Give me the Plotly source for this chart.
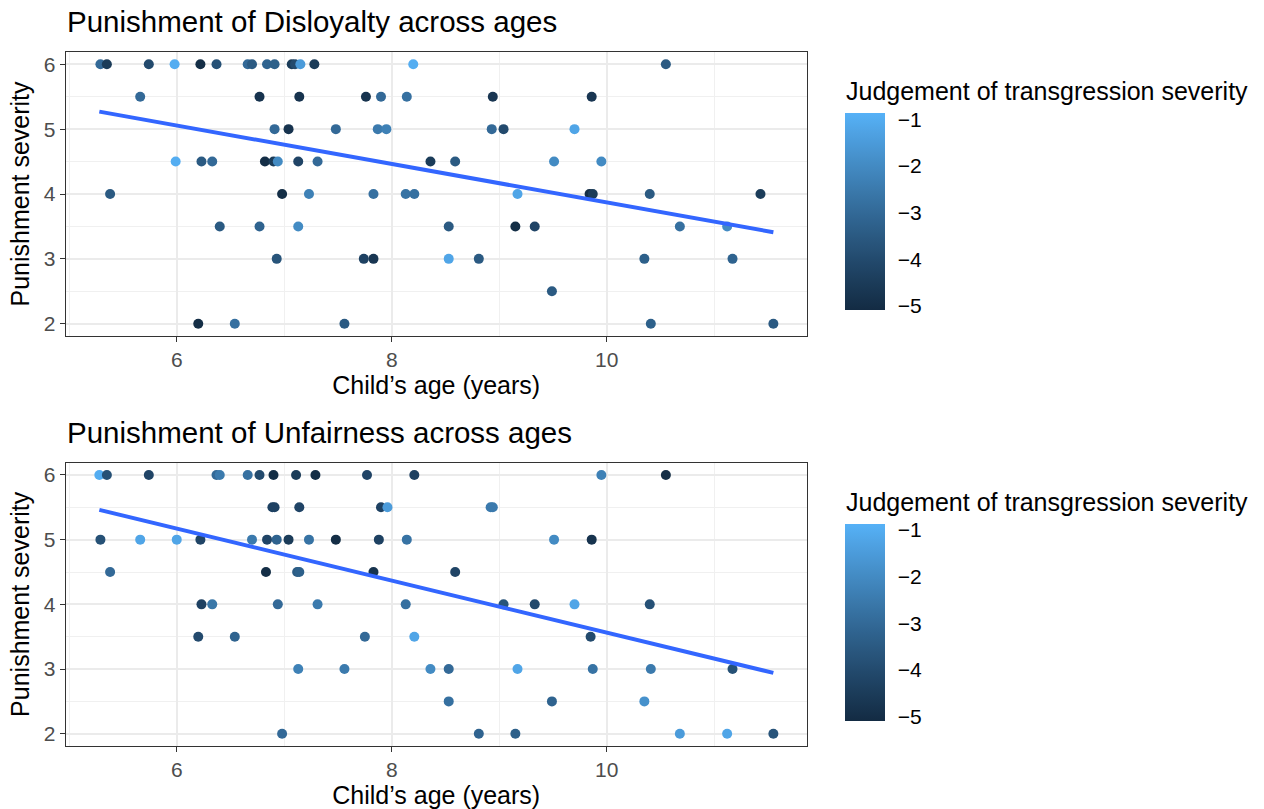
import plotly.graph_objects as go
import numpy as np

# ---------------- data ----------------
# Disloyalty panel
dis_age = [5.29, 5.35, 5.74, 5.98, 6.22, 6.37, 6.66, 6.70, 6.84, 6.91, 7.07, 7.10, 7.15, 7.28, 8.20, 10.55,
           5.66, 6.77, 7.14, 7.76, 7.90, 8.14, 8.94, 9.86,
           6.91, 7.04, 7.48, 7.87, 7.95, 8.93, 9.04, 9.70,
           5.99, 6.23, 6.33, 6.82, 6.90, 6.94, 7.13, 7.31, 8.36, 8.59, 9.51, 9.95,
           5.38, 6.98, 7.23, 7.83, 8.13, 8.21, 9.17, 9.84, 9.87, 10.40, 11.43,
           6.40, 6.77, 7.13, 8.53, 9.15, 9.33, 10.68, 11.12,
           6.93, 7.74, 7.83, 8.53, 8.81, 10.35, 11.17,
           9.49,
           6.20, 6.54, 7.56, 10.41, 11.55]
dis_pun = [6]*16 + [5.5]*8 + [5]*8 + [4.5]*12 + [4]*11 + [3.5]*8 + [3]*7 + [2.5]*1 + [2]*5
dis_judg = [-3.0, -4.5, -4.0, -1.0, -5.0, -3.8, -3.0, -3.5, -3.2, -3.3, -4.5, -4.0, -1.5, -4.5, -1.0, -3.5,
            -3.0, -4.8, -4.8, -4.8, -3.0, -2.8, -4.7, -4.7,
            -3.0, -4.8, -3.0, -2.5, -2.3, -3.0, -4.0, -1.2,
            -1.0, -3.5, -3.0, -5.0, -4.5, -2.0, -4.2, -3.0, -4.5, -3.5, -2.0, -2.0,
            -3.5, -5.0, -2.3, -2.8, -2.7, -2.8, -1.2, -5.0, -4.5, -3.5, -4.5,
            -3.5, -3.2, -2.0, -3.5, -5.0, -4.2, -2.8, -2.0,
            -3.7, -4.3, -4.7, -1.2, -3.5, -3.3, -3.2,
            -3.5,
            -5.0, -2.8, -3.5, -3.3, -3.5]

# Unfairness panel
unf_age = [5.28, 5.35, 5.74, 6.37, 6.40, 6.66, 6.77, 6.90, 7.11, 7.29, 7.77, 8.21, 9.95, 10.55,
           6.89, 6.91, 7.14, 7.90, 7.96, 8.92, 8.94,
           5.29, 5.66, 6.00, 6.22, 6.70, 6.84, 6.93, 7.04, 7.23, 7.48, 7.88, 8.14, 9.51, 9.86,
           5.38, 6.83, 7.12, 7.14, 7.83, 8.59,
           6.23, 6.33, 6.94, 7.31, 8.13, 9.04, 9.33, 9.70, 10.40,
           6.20, 6.54, 7.75, 8.21, 9.85,
           7.13, 7.56, 8.36, 8.53, 9.17, 9.87, 10.41, 11.17,
           8.53, 9.49, 10.35,
           6.98, 8.81, 9.15, 10.68, 11.12, 11.55]
unf_pun = [6]*14 + [5.5]*7 + [5]*14 + [4.5]*6 + [4]*9 + [3.5]*5 + [3]*8 + [2.5]*3 + [2]*6
unf_judg = [-1.0, -3.8, -4.2, -3.0, -2.5, -2.8, -4.0, -5.0, -4.5, -5.0, -4.2, -4.3, -2.3, -5.0,
            -4.3, -4.3, -4.2, -4.3, -1.5, -2.5, -2.5,
            -3.8, -1.2, -1.2, -4.2, -2.5, -4.2, -3.2, -4.5, -2.7, -5.0, -4.3, -2.7, -2.0, -4.8,
            -3.0, -5.0, -3.5, -3.3, -4.8, -4.2,
            -4.3, -2.6, -3.0, -2.5, -2.8, -3.7, -4.0, -1.2, -3.8,
            -4.0, -3.2, -3.0, -1.2, -4.0,
            -2.3, -2.5, -2.0, -3.0, -1.2, -2.7, -2.5, -3.8,
            -2.8, -3.2, -1.8,
            -3.0, -3.2, -3.3, -1.5, -1.2, -3.7]

# fitted linear trend (endpoints)
trend_age = [5.28, 11.55]
dis_trend = [5.27, 3.41]
unf_trend = [5.46, 2.94]

titles = ["Punishment of Disloyalty across ages", "Punishment of Unfairness across ages"]
x_title = "Child’s age (years)"
y_title = "Punishment severity"
legend_title = "Judgement of transgression severity"
cbar_vals = [-5, -4, -3, -2, -1]
cbar_text = ["−5", "−4", "−3", "−2", "−1"]
x_ticks = [6, 8, 10]
y_ticks = [2, 3, 4, 5, 6]

# ---------------- colour scale (ggplot2 default, Lab interpolation) ----------------
def hex_to_rgb(h):
    h = h.lstrip('#')
    return [int(h[i:i + 2], 16) / 255 for i in (0, 2, 4)]

def srgb_to_lin(c):
    return c / 12.92 if c <= 0.04045 else ((c + 0.055) / 1.055) ** 2.4

def lin_to_srgb(c):
    c = max(0.0, min(1.0, c))
    return 12.92 * c if c <= 0.0031308 else 1.055 * c ** (1 / 2.4) - 0.055

WP = (0.95047, 1.0, 1.08883)

def rgb_to_lab(rgb):
    r, g, b = [srgb_to_lin(c) for c in rgb]
    X = 0.4124 * r + 0.3576 * g + 0.1805 * b
    Y = 0.2126 * r + 0.7152 * g + 0.0722 * b
    Z = 0.0193 * r + 0.1192 * g + 0.9505 * b
    def f(t):
        return t ** (1 / 3) if t > 0.008856 else 7.787 * t + 16 / 116
    fx, fy, fz = f(X / WP[0]), f(Y / WP[1]), f(Z / WP[2])
    return (116 * fy - 16, 500 * (fx - fy), 200 * (fy - fz))

def lab_to_rgb(lab):
    L, a, b = lab
    fy = (L + 16) / 116
    fx = fy + a / 500
    fz = fy - b / 200
    def finv(t):
        return t ** 3 if t ** 3 > 0.008856 else (t - 16 / 116) / 7.787
    X, Y, Z = finv(fx) * WP[0], finv(fy) * WP[1], finv(fz) * WP[2]
    r = 3.2406 * X - 1.5372 * Y - 0.4986 * Z
    g = -0.9689 * X + 1.8758 * Y + 0.0415 * Z
    bb = 0.0557 * X - 0.2040 * Y + 1.0570 * Z
    return [round(lin_to_srgb(c) * 255) for c in (r, g, bb)]

low_lab = rgb_to_lab(hex_to_rgb("#132B43"))
high_lab = rgb_to_lab(hex_to_rgb("#56B1F7"))
cscale = []
for i in range(21):
    t = i / 20
    lab = [low_lab[k] + t * (high_lab[k] - low_lab[k]) for k in range(3)]
    r, g, b = lab_to_rgb(lab)
    cscale.append([t, f"rgb({r},{g},{b})"])

# ---------------- figure ----------------
W, H = 1264, 809
FONT = "Liberation Sans, Arial, Helvetica, sans-serif"

def px_x(p):
    return p / W

def px_y(p):
    return 1 - p / H

x_dom = [px_x(65.7), px_x(806.7)]
y_doms = [[px_y(335.7), px_y(52.3)], [px_y(745.7), px_y(463.0)]]

fig = go.Figure()

panels = [(dis_age, dis_pun, dis_judg, dis_trend), (unf_age, unf_pun, unf_judg, unf_trend)]
for i, (ag, pu, jd, tr) in enumerate(panels):
    sfx = "" if i == 0 else "2"
    fig.add_trace(go.Scatter(
        x=ag, y=pu, mode="markers",
        marker=dict(size=10, color=jd, coloraxis="coloraxis" + sfx, line=dict(width=0)),
        xaxis="x" + sfx, yaxis="y" + sfx, showlegend=False))
    fig.add_trace(go.Scatter(
        x=trend_age, y=tr, mode="lines",
        line=dict(color="#3366FF", width=4),
        xaxis="x" + sfx, yaxis="y" + sfx, showlegend=False))

axis_common = dict(
    showline=True, mirror=True, linecolor="#333333", linewidth=1.2,
    ticks="outside", ticklen=5, tickcolor="#333333", tickwidth=1.2,
    tickfont=dict(family=FONT, size=21, color="#4D4D4D"),
    showgrid=True, gridcolor="#EBEBEB", gridwidth=1.6,
    zeroline=False, automargin=False, fixedrange=True,
)

layout = dict(
    width=W, height=H, margin=dict(l=0, r=0, t=0, b=0),
    paper_bgcolor="white", plot_bgcolor="white",
    font=dict(family=FONT, color="black"),
    showlegend=False,
)

for i in range(2):
    sfx = "" if i == 0 else "2"
    layout["xaxis" + sfx] = dict(
        axis_common, domain=x_dom, range=[4.967, 11.86], anchor="y" + sfx,
        tickmode="array", tickvals=x_ticks,
        minor=dict(dtick=1, tick0=5, showgrid=True, gridcolor="#F0F0F0", gridwidth=0.9, ticks=""),
        title=dict(text=x_title, font=dict(family=FONT, size=25, color="black"), standoff=4),
    )
    layout["yaxis" + sfx] = dict(
        axis_common, domain=y_doms[i], range=[1.815, 6.185], anchor="x" + sfx,
        tickmode="array", tickvals=y_ticks,
        minor=dict(dtick=0.5, tick0=2.5, showgrid=True, gridcolor="#F0F0F0", gridwidth=0.9, ticks=""),
        title=dict(text=y_title, font=dict(family=FONT, size=25, color="black"), standoff=6),
    )
    bar_top = 113.3 + (0 if i == 0 else 410.7)
    layout["coloraxis" + sfx] = dict(
        cmin=-5.09, cmax=-0.87, colorscale=cscale,
        colorbar=dict(
            x=px_x(845), xanchor="left", xpad=0,
            y=px_y(bar_top), yanchor="top", ypad=0,
            len=197, lenmode="pixels", thickness=40, thicknessmode="pixels",
            outlinewidth=0, tickmode="array", tickvals=cbar_vals, ticktext=cbar_text,
            ticks="outside", ticklen=9, tickcolor="rgba(255,255,255,0)", tickwidth=1,
            tickfont=dict(family=FONT, size=21, color="black"),
        ),
    )

annotations = []
for i in range(2):
    off = 0 if i == 0 else 410.7
    annotations.append(dict(
        text=titles[i], xref="paper", yref="paper", x=px_x(65), y=px_y(22 + off),
        xanchor="left", yanchor="middle", showarrow=False,
        font=dict(family=FONT, size=29.5, color="black")))
    annotations.append(dict(
        text=legend_title, xref="paper", yref="paper", x=px_x(844), y=px_y(91 + off),
        xanchor="left", yanchor="middle", showarrow=False,
        font=dict(family=FONT, size=25, color="black")))
layout["annotations"] = annotations

fig.update_layout(**layout)
fig.write_html("out.html")
